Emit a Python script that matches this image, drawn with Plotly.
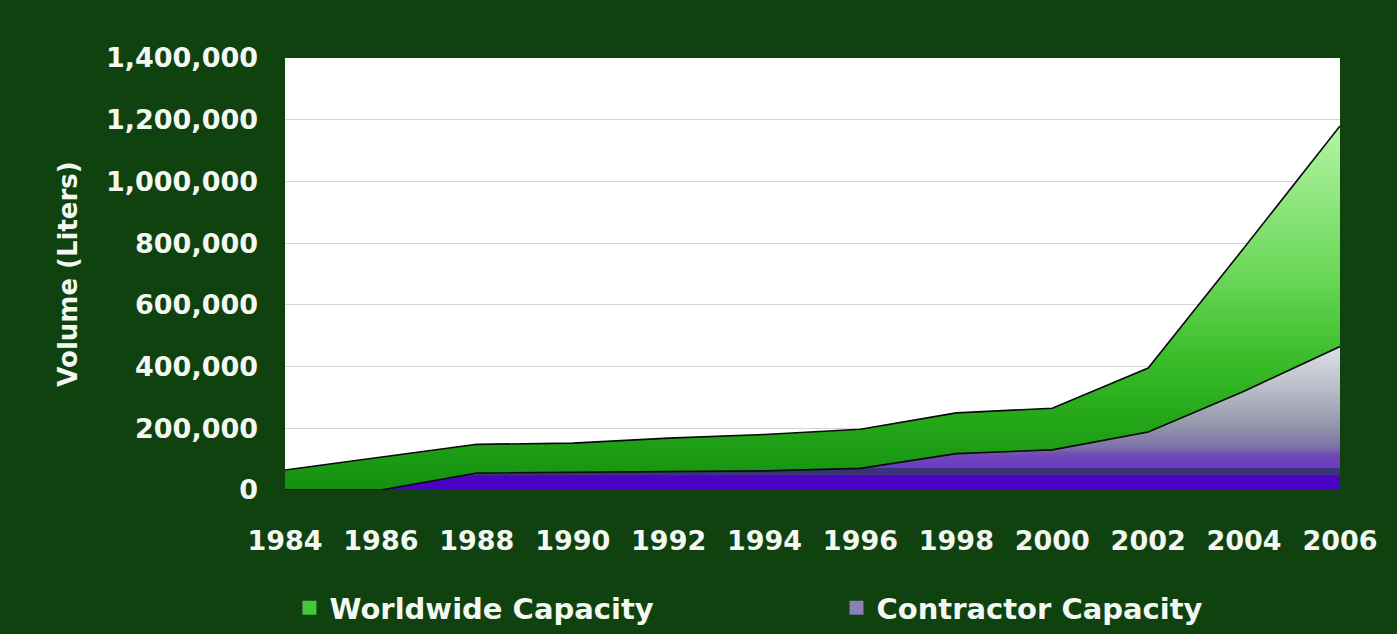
import plotly.graph_objects as go

# Capacity data (liters), biennial
years = [1984, 1986, 1988, 1990, 1992, 1994, 1996, 1998, 2000, 2002, 2004, 2006]
year_labels = [str(y) for y in years]
worldwide = [65000, 107000, 148000, 152000, 168000, 180000, 197000, 250000, 265000, 395000, 785000, 1180000]
contractor = [0, 0, 55000, 57000, 58000, 62000, 70000, 118000, 130000, 188000, 320000, 465000]

y_ticks = [0, 200000, 400000, 600000, 800000, 1000000, 1200000, 1400000]

FONT = "DejaVu Sans"
WHITE = "#f4f8f2"
BG = "#0f420f"

fig = go.Figure()

fig.add_trace(go.Scatter(
    x=years, y=worldwide, mode="lines", fill="tozeroy",
    line=dict(color="#0a0a0a", width=1.6),
    fillgradient=dict(
        type="vertical", start=0, stop=1180000,
        colorscale=[[0, "#149010"], [0.2, "#24a818"], [0.35, "#38bc28"],
                    [0.6, "#6cd85a"], [0.85, "#98ea88"], [1, "#b4f4a6"]],
    ),
    showlegend=False, hoverinfo="skip",
))

fig.add_trace(go.Scatter(
    x=years, y=contractor, mode="lines", fill="tozeroy",
    line=dict(color="#0a0a0a", width=1.6),
    fillgradient=dict(
        type="vertical", start=0, stop=465000,
        colorscale=[[0, "#4800c4"], [0.10, "#4c04c0"], [0.105, "#38357a"],
                    [0.15, "#3a3278"], [0.155, "#6a3ac4"], [0.24, "#7048b8"],
                    [0.30, "#7e72a8"], [0.45, "#9496ac"], [0.7, "#b8bcc8"],
                    [1, "#dce0e6"]],
    ),
    showlegend=False, hoverinfo="skip",
))

# Legend swatches
fig.add_trace(go.Scatter(
    x=[None], y=[None], mode="markers", name="Worldwide Capacity",
    marker=dict(symbol="square", size=14, color="#44c83a"),
))
fig.add_trace(go.Scatter(
    x=[None], y=[None], mode="markers", name="Contractor Capacity",
    marker=dict(symbol="square", size=14, color="#8a82b4"),
))

fig.update_layout(
    width=1397, height=634,
    margin=dict(l=285, r=57, t=58, b=144, autoexpand=False),
    paper_bgcolor=BG, plot_bgcolor="white",
    font=dict(family=FONT, color=WHITE),
    showlegend=True,
    legend=dict(
        orientation="h", x=-0.0005, xanchor="left", y=-0.273, yanchor="middle",
        font=dict(family=FONT, size=29, color=WHITE, weight="bold"),
        entrywidth=497, entrywidthmode="pixels", indentation=5,
        bgcolor="rgba(0,0,0,0)",
    ),
    xaxis=dict(
        range=[1984, 2006], tickmode="array", tickvals=years, ticktext=year_labels,
        showgrid=False, zeroline=False, showline=False, ticks="",
        tickfont=dict(family=FONT, size=27, color=WHITE, weight="bold"),
        ticklabelstandoff=32, fixedrange=True, automargin=False,
    ),
    yaxis=dict(
        range=[0, 1400000], tickmode="array", tickvals=y_ticks, tickformat=",d",
        showgrid=True, gridcolor="#d4d4d4", gridwidth=1,
        zeroline=False, showline=False, ticks="",
        tickfont=dict(family=FONT, size=27, color=WHITE, weight="bold"),
        ticklabelstandoff=26,
        title=dict(text="Volume (Liters)", standoff=20,
                   font=dict(family=FONT, size=26, color=WHITE, weight="bold")),
        fixedrange=True, automargin=False,
    ),
)

fig.write_html("out.html")
